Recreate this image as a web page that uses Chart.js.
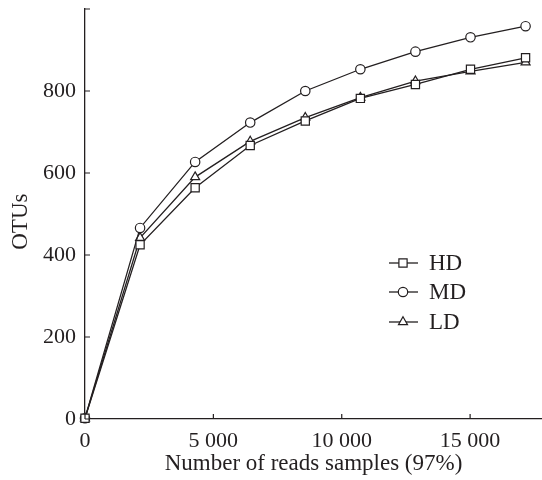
<!DOCTYPE html>
<html>
<head>
<meta charset="utf-8">
<script src="https://cdn.jsdelivr.net/npm/chart.js@4.4.1/dist/chart.umd.min.js"></script>
<style>
  html, body { margin: 0; padding: 0; background: #fff; }
  #wrap { width: 542px; height: 480px; }
</style>
</head>
<body>
<div id="wrap"><canvas id="otuChart"></canvas></div>
<script>
// rarefaction curves: reads sampled vs. observed OTUs
const reads = [0, 2145, 4290, 6435, 8580, 10725, 12870, 15015, 17160];
const hdOtus = [2, 425, 564, 667, 727, 782, 816, 853, 881];
const mdOtus = [2, 466, 627, 723, 800, 853, 896, 931, 958];
const ldOtus = [2, 442, 590, 677, 735, 784, 824, 848, 870];
const groups = ['HD', 'MD', 'LD'];
const xTicks = [0, 5000, 10000, 15000];
const yTicks = [0, 200, 400, 600, 800, 1000];

const ink = '#231f20';
const serif = '"Liberation Serif", "Times New Roman", serif';

function pairs(values) {
    return reads.map((r, i) => ({ x: r, y: values[i] }));
}

function series(label, values, pointStyle, radius) {
    return {
        label,
        data: pairs(values),
        borderColor: ink,
        borderWidth: 1.3,
        pointStyle,
        pointRadius: radius,
        pointBackgroundColor: '#fff',
        pointBorderColor: ink,
        pointBorderWidth: 1.2,
        tension: 0,
        clip: false,
    };
}

// short tick marks pointing into the plot
const innerTicks = {
    id: 'innerTicks',
    afterDraw(chart) {
        const { ctx, chartArea, scales } = chart;
        ctx.save();
        ctx.strokeStyle = ink;
        ctx.lineWidth = 1.2;
        ctx.beginPath();
        xTicks.forEach(v => {
            const px = scales.x.getPixelForValue(v);
            ctx.moveTo(px, chartArea.bottom);
            ctx.lineTo(px, chartArea.bottom - 5);
        });
        yTicks.forEach(v => {
            const py = scales.y.getPixelForValue(v);
            ctx.moveTo(chartArea.left, py);
            ctx.lineTo(chartArea.left + 5, py);
        });
        ctx.stroke();
        ctx.restore();
    }
};

// legend with a line run through each marker
const lineLegend = {
    id: 'lineLegend',
    afterDraw(chart) {
        const { ctx } = chart;
        const x0 = 389, x1 = 418, xm = 403, xt = 429;
        const rows = [263, 292, 322];
        ctx.save();
        chart.data.datasets.forEach((ds, i) => {
            const y = rows[i];
            ctx.strokeStyle = ink;
            ctx.lineWidth = 1.3;
            ctx.beginPath();
            ctx.moveTo(x0, y);
            ctx.lineTo(x1, y);
            ctx.stroke();
            ctx.fillStyle = '#fff';
            ctx.lineWidth = 1.2;
            Chart.helpers.drawPoint(ctx, {
                pointStyle: ds.pointStyle,
                radius: ds.pointRadius,
                rotation: 0,
                borderWidth: 1.2
            }, xm, y);
            ctx.fillStyle = ink;
            ctx.font = '23px ' + serif;
            ctx.textBaseline = 'middle';
            ctx.textAlign = 'left';
            ctx.fillText(ds.label, xt, y + 1);
        });
        ctx.restore();
    }
};

new Chart(document.getElementById('otuChart'), {
    type: 'line',
    data: {
        datasets: [
            series(groups[0], hdOtus, 'rect', 5.8),
            series(groups[1], mdOtus, 'circle', 4.7),
            series(groups[2], ldOtus, 'triangle', 5.2),
        ]
    },
    options: {
        responsive: true,
        maintainAspectRatio: false,
        animation: false,
        layout: { autoPadding: false, padding: { top: 9, right: 0, left: 0, bottom: 0 } },
        plugins: {
            legend: { display: false },
            tooltip: { enabled: false },
        },
        scales: {
            x: {
                type: 'linear',
                min: 0,
                max: 17800,
                afterBuildTicks: s => { s.ticks = xTicks.map(v => ({ value: v })); },
                afterFit: s => { s.height = 61; s.paddingLeft = 0; s.paddingRight = 0; },
                grid: { display: false, drawTicks: false },
                border: { display: true, color: ink, width: 1.3 },
                ticks: {
                    padding: 9,
                    color: ink,
                    font: { family: serif, size: 22 },
                    maxRotation: 0,
                    callback: v => String(v).replace(/\B(?=(\d{3})+(?!\d))/g, ' '),
                },
                title: {
                    display: true,
                    text: 'Number of reads samples (97%)',
                    color: ink,
                    font: { family: serif, size: 23 },
                    padding: { top: 0, bottom: 2 },
                },
            },
            y: {
                min: 0,
                max: 1000,
                afterBuildTicks: s => { s.ticks = yTicks.map(v => ({ value: v })); },
                afterFit: s => { s.width = 85; s.paddingTop = 0; s.paddingBottom = 0; },
                grid: { display: false, drawTicks: false },
                border: { display: true, color: ink, width: 1.3 },
                ticks: {
                    padding: 9,
                    color: ink,
                    font: { family: serif, size: 22 },
                    callback: v => (v === 1000 ? '' : String(v)),
                },
                title: {
                    display: true,
                    // trailing space nudges the rotated label toward the bottom
                    text: 'OTUs\u2002\u2006',
                    color: ink,
                    font: { family: serif, size: 23 },
                    padding: { top: 7, bottom: 0 },
                },
            },
        },
    },
    plugins: [innerTicks, lineLegend],
});
</script>
</body>
</html>
